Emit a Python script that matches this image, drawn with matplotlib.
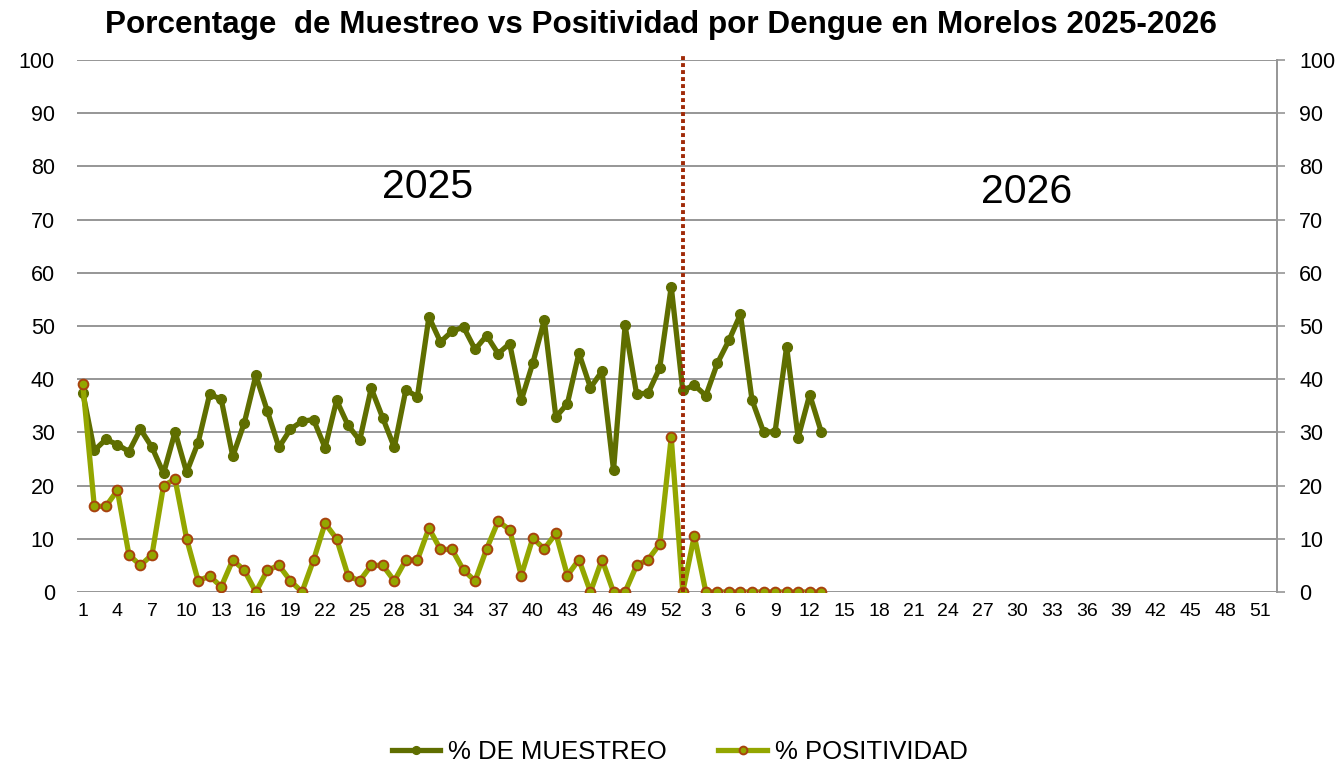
import matplotlib.pyplot as plt
import numpy as np

plt.rcParams['font.family'] = ['Liberation Sans', 'DejaVu Sans']

# semanas 2025 (1-52) + 2026 (1-52)
weeks_2025 = list(range(1, 53))
weeks_2026 = list(range(1, 53))

muestreo_2025 = [37.5, 26.6, 28.7, 27.7, 26.4, 30.6, 27.2, 22.3, 30.1, 22.5,
                 28.1, 37.2, 36.2, 25.5, 31.8, 40.7, 34.0, 27.2, 30.6, 32.1,
                 32.4, 27.1, 36.0, 31.3, 28.5, 38.3, 32.7, 27.2, 38.0, 36.7,
                 51.7, 47.0, 49.0, 49.8, 45.6, 48.2, 44.8, 46.7, 36.0, 43.0,
                 51.1, 32.9, 35.4, 44.9, 38.4, 41.5, 22.9, 50.1, 37.2, 37.4,
                 42.1, 57.4]
muestreo_2026 = [37.9, 38.9, 36.9, 43.0, 47.3, 52.2, 36.1, 30.1, 30.1, 46.1,
                 29.0, 37.1, 30.1]

positividad_2025 = [39.1, 16.1, 16.1, 19.1, 7.0, 5.0, 7.0, 20.0, 21.2, 10.0,
                    2.1, 3.0, 1.0, 6.0, 4.1, 0, 4.1, 5.0, 2.1, 0,
                    6.0, 12.9, 10.0, 3.0, 2.1, 5.0, 5.0, 2.1, 6.0, 6.0,
                    12.0, 8.0, 8.0, 4.1, 2.1, 8.1, 13.3, 11.7, 3.1, 10.1,
                    8.1, 11.0, 3.1, 6.1, 0, 6.1, 0, 0, 5.0, 6.1,
                    9.0, 29.1]
positividad_2026 = [0, 10.6, 0, 0, 0, 0, 0, 0, 0, 0, 0, 0, 0]

labels = [str(w) for w in weeks_2025 + weeks_2026]
x_all = np.arange(1, len(labels) + 1)

muestreo = muestreo_2025 + muestreo_2026
positividad = positividad_2025 + positividad_2026
x_m = x_all[:len(muestreo)]
x_p = x_all[:len(positividad)]

c_muestreo = '#5f6e00'
c_pos = '#93a600'
c_edge = '#a8420e'
c_grid = '#969696'

fig = plt.figure(figsize=(13.43, 7.66), dpi=100)
ax = fig.add_axes([77 / 1343, 1 - 592 / 766, 1200 / 1343, 532 / 766])

ax.plot(x_m, muestreo, color=c_muestreo, lw=3.8, marker='o', ms=7,
        mfc=c_muestreo, mec=c_muestreo, label='% DE MUESTREO', zorder=3)
ax.plot(x_p, positividad, color=c_pos, lw=3.8, marker='o', ms=7,
        mfc=c_pos, mec=c_edge, mew=1.4, label='% POSITIVIDAD', zorder=4)

# linea divisoria entre años
ax.axvline(len(weeks_2025) + 1, ymin=0, ymax=1.012, color='#a02a08', lw=2.8,
           ls=(0, (1, 0.8)), clip_on=False, zorder=5)

ax.text(30.9, 76.1, '2025', fontsize=29.5, ha='center', va='center')
ax.text(82.8, 75.2, '2026', fontsize=29.5, ha='center', va='center')

ax.set_xlim(0.5, len(labels) + 0.5)
ax.set_ylim(0, 100)
ax.set_yticks(np.arange(0, 101, 10))
ax.set_xticks(x_all[::3])
ax.set_xticklabels(labels[::3], fontsize=14)
ax.tick_params(axis='x', length=0, pad=8)
ax.tick_params(axis='y', left=False, right=True, labelleft=True,
               labelright=True, labelsize=15.5, length=6, width=1.2,
               color=c_grid, pad=10)
ax.grid(axis='y', color=c_grid, lw=1.4)
ax.set_axisbelow(True)
for s in ['top', 'left', 'bottom']:
    ax.spines[s].set_visible(False)
ax.spines['right'].set_color(c_grid)
ax.spines['right'].set_linewidth(1.4)

fig.text(0.492, 0.968, 'Porcentage  de Muestreo vs Positividad por Dengue en Morelos 2025-2026',
         fontsize=22.6, fontweight='bold', ha='center', va='center')

fig.legend(loc='center', bbox_to_anchor=(0.506, 0.018), ncol=2, frameon=False,
           fontsize=18.5, columnspacing=2.0, handlelength=1.9, handletextpad=0.3,
           markerscale=0.8)

fig.savefig('out.png', dpi=100)
